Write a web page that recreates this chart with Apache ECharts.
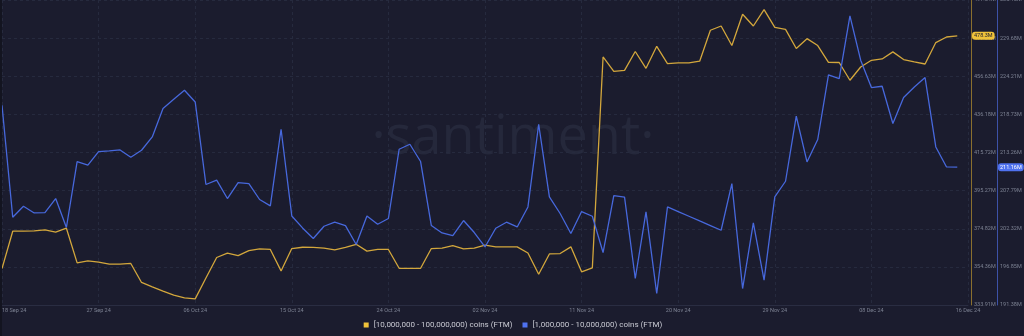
<!DOCTYPE html>
<html>
<head>
<meta charset="utf-8">
<script src="https://cdn.jsdelivr.net/npm/echarts@6/dist/echarts.min.js"></script>
<style>
html,body{margin:0;padding:0;background:#131420;}
#chart{position:absolute;left:2px;top:0;width:1022px;height:336px;}
</style>
</head>
<body>
<div id="chart"></div>
<script>
// ---- data ----
const startDate = Date.UTC(2024, 8, 18);
const monthNames = ['Jan','Feb','Mar','Apr','May','Jun','Jul','Aug','Sep','Oct','Nov','Dec'];
const categories = [];
for (let d = 0; d < 91; d++) {
  const dt = new Date(startDate + d * 86400000);
  categories.push(String(dt.getUTCDate()).padStart(2,'0') + ' ' + monthNames[dt.getUTCMonth()] + ' 24');
}
const xTickLabels = ['18 Sep 24','27 Sep 24','06 Oct 24','15 Oct 24','24 Oct 24','02 Nov 24','11 Nov 24','20 Nov 24','29 Nov 24','08 Dec 24','16 Dec 24'];

const seriesNames = ['[10,000,000 - 100,000,000) coins (FTM)', '[1,000,000 - 10,000,000) coins (FTM)'];

const yellowValues = [
  353.5,373.5,373.5,373.7,374.2,373.0,375.1,356.5,357.6,356.9,
  355.8,355.8,356.2,346.0,343.6,341.3,339.2,337.7,337.2,348.4,
  359.4,361.7,360.4,363.1,364.0,363.7,352.2,364.2,364.9,364.8,
  364.4,363.5,364.8,366.5,362.8,363.7,363.7,353.6,353.6,353.6,
  364.2,364.4,365.8,364.0,364.4,366.0,365.1,365.1,365.1,361.8,
  350.4,361.3,361.5,365.1,351.7,353.8,467.0,459.3,459.8,469.9,
  460.9,472.7,463.4,463.8,463.8,464.7,481.3,483.6,473.1,489.9,
  483.6,492.4,482.9,481.8,471.5,476.8,473.1,464.1,464.0,454.5,
  461.6,465.2,465.9,469.7,465.6,464.3,463.2,474.7,477.7,478.3
];
const blueValues = [
  220.05,203.98,205.55,204.59,204.65,206.66,202.50,211.97,211.44,213.40,
  213.49,213.63,212.59,213.59,215.50,219.57,220.91,222.20,220.52,208.67,
  209.29,206.66,208.95,208.81,206.52,205.60,216.60,204.16,202.44,200.92,
  202.68,203.26,202.78,200.06,204.16,202.97,203.79,213.73,214.45,211.97,
  202.78,201.72,201.35,203.50,201.78,199.71,202.40,203.26,202.58,205.45,
  217.32,206.89,204.51,201.64,204.79,204.12,198.91,207.09,206.85,195.18,
  204.74,193.03,205.45,204.79,204.12,203.44,202.78,202.11,208.81,193.74,
  203.16,194.94,206.89,209.14,218.47,211.91,215.13,224.40,223.88,232.86,
  226.51,222.59,222.77,217.42,221.15,222.67,224.02,214.06,211.19,211.16
];

const yellowTicks = ['333.91M','354.36M','374.82M','395.27M','415.72M','436.18M','456.63M','477.09M','497.54M'];
const blueTicks = ['191.38M','196.85M','202.32M','207.79M','213.26M','218.73M','224.21M','229.68M','235.15M'];
const yellowMin = 333.91, yellowMax = 497.54;
const blueMin = 191.38, blueMax = 235.15;
const yellowLast = 478.3, blueLast = 211.16;

// ---- chart ----
const chart = echarts.init(document.getElementById('chart'), null, {renderer: 'canvas'});
const yInt = (yellowMax - yellowMin) / 8;
const bInt = (blueMax - blueMin) / 8;
const FONT = 'Roboto, "Noto Sans", sans-serif';

chart.setOption({
  backgroundColor: '#1b1c2e',
  animation: false,
  textStyle: {fontFamily: FONT},
  graphic: [{
    type: 'text',
    left: 'center',
    top: 112,
    z: 0,
    silent: true,
    style: {text: '·santiment·', fontSize: 54, fontFamily: '"Open Sans", sans-serif', fontWeight: 400, fill: '#25283b'}
  }],
  legend: {
    bottom: 2,
    left: 'center',
    itemWidth: 5,
    itemHeight: 5,
    itemGap: 10,
    icon: 'rect',
    textStyle: {color: '#c9cad3', fontSize: 8, fontFamily: FONT},
    data: seriesNames
  },
  grid: {left: 0, right: 56, top: 0, bottom: 31, containLabel: false, outerBoundsMode: 'none'},
  xAxis: {
    type: 'category',
    data: categories,
    boundaryGap: false,
    axisLine: {lineStyle: {color: '#2a2d42'}},
    axisTick: {show: false},
    axisLabel: {
      interval: 8,
      color: '#7d8293',
      fontSize: 5.5,
      margin: 3,
      alignMinLabel: 'left',
      formatter: (v, i) => xTickLabels[Math.round(i / 9)] || ''
    },
    splitLine: {show: true, interval: 8, lineStyle: {color: '#262a3e', type: [3, 3]}}
  },
  yAxis: [{
    type: 'value',
    position: 'right',
    offset: 3,
    min: yellowMin, max: yellowMax, interval: yInt,
    axisLine: {show: true, lineStyle: {color: '#8a6f2e'}},
    axisTick: {show: false},
    axisLabel: {
      color: '#7d8293', fontSize: 5.5, margin: 3,
      formatter: v => yellowTicks[Math.round((v - yellowMin) / yInt)] || ''
    },
    splitLine: {show: true, lineStyle: {color: '#262a3e', type: [3, 3]}},
    axisPointer: {
      show: true, status: 'show', value: yellowLast, triggerTooltip: false, type: 'line',
      lineStyle: {color: 'rgba(0,0,0,0)', width: 0},
      label: {show: true, backgroundColor: '#f0c23a', color: '#1b1c2e', fontSize: 5.5, padding: [1, 2, 1, 2], margin: 1,
        formatter: () => yellowLast.toFixed(1) + 'M'}
    }
  }, {
    type: 'value',
    position: 'right',
    offset: 29,
    min: blueMin, max: blueMax, interval: bInt,
    axisLine: {show: true, lineStyle: {color: '#3d52a8'}},
    axisTick: {show: false},
    axisLabel: {
      color: '#7d8293', fontSize: 5.5, margin: 3,
      formatter: v => blueTicks[Math.round((v - blueMin) / bInt)] || ''
    },
    splitLine: {show: false},
    axisPointer: {
      show: true, status: 'show', value: blueLast, triggerTooltip: false, type: 'line',
      lineStyle: {color: 'rgba(0,0,0,0)', width: 0},
      label: {show: true, backgroundColor: '#4f72f0', color: '#ffffff', fontSize: 5.5, padding: [1, 2, 1, 2], margin: 1,
        formatter: () => blueLast.toFixed(2) + 'M'}
    }
  }],
  series: [{
    name: seriesNames[0],
    type: 'line',
    yAxisIndex: 0,
    data: yellowValues,
    showSymbol: false,
    itemStyle: {color: '#f0c23a'},
    lineStyle: {color: '#d3a73c', width: 1.3},
    z: 2
  }, {
    name: seriesNames[1],
    type: 'line',
    yAxisIndex: 1,
    data: blueValues,
    showSymbol: false,
    itemStyle: {color: '#4f72f0'},
    lineStyle: {color: '#4768dc', width: 1.3},
    z: 3
  }]
});
</script>
</body>
</html>
